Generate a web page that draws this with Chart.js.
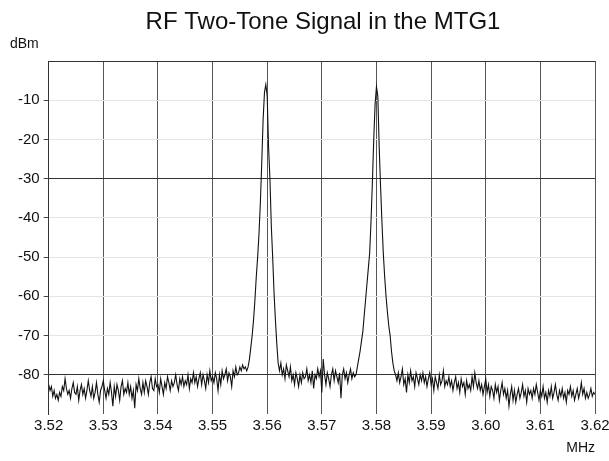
<!DOCTYPE html>
<html>
<head>
<meta charset="utf-8">
<script src="https://cdn.jsdelivr.net/npm/chart.js@4.4.1/dist/chart.umd.min.js"></script>
<style>
  html, body { margin: 0; padding: 0; background: #fff; }
  #wrap { width: 609px; height: 461px; position: relative; }
</style>
</head>
<body>
<div id="wrap"><canvas id="spectrum"></canvas></div>
<script>
// frequency bins: 3.52 MHz + i * 0.25 kHz
const startMHz = 3.52;
const stepMHz = 0.00025;

const xTickValues = [3.52, 3.53, 3.54, 3.55, 3.56, 3.57, 3.58, 3.59, 3.60, 3.61, 3.62];
const yTickValues = [0, -10, -20, -30, -40, -50, -60, -70, -80, -90];

// noise floor left of the first tone (3.52 .. 3.556)
const noiseLeft = [
  -82.5, -84, -83, -85.5, -84, -86, -85, -86.5, -84.5, -85.5, -83, -84, -81, -83.5, -85, -84, -86, -83.5, -82, -84.5,
  -85, -83, -86.5, -84, -82.5, -85, -83.5, -86, -84, -81.5, -84, -85.5, -83, -86, -84.5, -82, -85, -87, -84, -83,
  -81.5, -84, -86, -83.5, -85, -82, -84.5, -88, -83, -85.5, -82.5, -84, -86.5, -83, -81.5, -85, -83.5, -84.5, -82, -85,
  -83, -86, -84, -88.5, -82.5, -84, -81, -83.5, -85, -82, -84.5, -81.5, -83, -85, -82, -80.5, -83.5, -84, -81, -83,
  -82.5, -84.5, -81, -83, -85, -82, -83.5, -80.5, -82, -84, -81.5, -83, -82, -80, -82.5, -84, -81, -82.5, -80.5, -83,
  -81.5, -82.5, -80, -83.5, -81, -82, -79.5, -82, -80.5, -83, -81, -79.5, -82.5, -80, -81.5, -83.5, -80, -82, -79, -81.5,
  -80.5, -82, -79.5, -81, -84, -80, -82.5, -79, -81, -80, -78.5, -81.5, -79.5, -80.5, -83, -79, -80.5, -78, -80, -79.5,
  -78, -79, -77.5, -78.5, -78
];

// first tone, 3.55625 .. 3.562
const toneOne = [
  -79, -78, -76, -73, -70, -66, -61, -55, -50, -44, -36, -26, -15, -8, -6,
  -9, -22, -30, -42, -50, -59, -66, -72, -77
];

// noise between the tones, 3.56225 .. 3.576
const noiseMid = [
  -79, -77, -80, -78.5, -81, -77.5, -79, -80.5, -78, -81.5, -80, -82.5, -79.5, -81, -83, -80, -82, -79.5, -81, -80.5,
  -78.5, -81.5, -80, -82, -79, -83.5, -80, -81, -78.5, -80.5, -79, -84.5, -76, -80, -82.5, -79.5, -81, -83, -80, -78.5,
  -81.5, -79, -80.5, -82, -79.5, -86, -80, -78.5, -81, -79.5, -82, -80, -78.5, -81, -79.5, -80.5
];

// second tone, 3.57625 .. 3.58325
const toneTwo = [
  -80, -78, -76, -74, -71.5, -69, -65, -61, -57, -53, -49, -41, -31, -20, -11,
  -6.5, -9, -22, -32, -41, -49, -55, -60, -64, -67.5, -70, -74, -77, -79
];

// noise floor right of the second tone, 3.5835 .. 3.62
const noiseRight = [
  -80, -81.5, -79.5, -82, -80.5, -78.5, -82.5, -81, -84.5, -80, -82, -79, -81.5, -80.5, -83, -79.5, -81, -82.5, -80, -81.5,
  -79.5, -82, -80.5, -83, -81, -79.5, -82.5, -81, -84, -80.5, -82, -83.5, -80, -82.5, -81.5, -79, -83, -81.5, -82.5, -80.5,
  -83, -81.5, -84, -82, -80.5, -83.5, -82, -84.5, -81, -83, -82, -85, -81.5, -83.5, -82.5, -84, -80.5, -83, -79.5, -82,
  -83.5, -81.5, -84, -82.5, -85, -83, -81, -84.5, -82.5, -85.5, -83, -84, -86, -82.5, -84.5, -83, -86.5, -84, -82, -85,
  -83.5, -86, -84, -88, -85, -83, -86.5, -84, -87, -85, -83.5, -86, -84.5, -82.5, -85.5, -84, -87, -83.5, -85, -84,
  -86, -83.5, -85, -82.5, -84.5, -86.5, -84, -85.5, -83, -86, -84.5, -87, -84, -85.5, -83, -86, -84.5, -82.5, -85, -86.5,
  -84, -85.5, -83.5, -86, -84.5, -87, -84, -85, -83, -85.5, -84, -86.5, -85, -83.5, -86, -84.5, -82, -85, -83.5, -86,
  -84.5, -86, -85, -83.5, -85.5, -84.5, -85
];

const levels = [...noiseLeft, ...toneOne, ...noiseMid, ...toneTwo, ...noiseRight];
const points = levels.map((v, i) => ({ x: startMHz + i * stepMHz, y: v }));

const FONT = '"Liberation Sans", Arial, Helvetica, sans-serif';

// title and unit labels
const labelsPlugin = {
  id: 'labels',
  afterDraw(chart) {
    const c = chart.ctx;
    c.save();
    c.fillStyle = '#111';
    c.textBaseline = 'middle';
    c.font = '24px ' + FONT;
    c.textAlign = 'center';
    c.fillText('RF Two-Tone Signal in the MTG1', 323, 22);
    c.font = '14px ' + FONT;
    c.textAlign = 'left';
    c.fillText('dBm', 10, 44);
    c.textAlign = 'right';
    c.fillText('MHz', 595, 448);
    c.restore();
  }
};

const ctx = document.getElementById('spectrum').getContext('2d');
new Chart(ctx, {
  type: 'line',
  data: {
    datasets: [{
      label: 'RF Two-Tone',
      data: points,
      borderColor: '#111',
      borderWidth: 1.1,
      pointRadius: 0,
      tension: 0,
      fill: false,
    }],
  },
  options: {
    responsive: true,
    maintainAspectRatio: false,
    animation: false,
    layout: { padding: { top: 61, left: 14, right: 14, bottom: 23 } },
    plugins: {
      legend: { display: false },
      title: { display: false },
      tooltip: { enabled: false },
    },
    scales: {
      x: {
        type: 'linear',
        min: 3.52,
        max: 3.62,
        afterBuildTicks: (axis) => { axis.ticks = xTickValues.map(v => ({ value: v })); },
        // let the last label hang into the right margin
        afterFit: (axis) => { axis.paddingRight = 0; axis.paddingLeft = 0; },
        ticks: {
          callback: (v) => v.toFixed(2),
          color: '#111',
          font: { family: FONT, size: 15 },
          padding: 3,
          maxRotation: 0,
          autoSkip: false,
        },
        grid: { color: '#555', lineWidth: 1, drawTicks: false },
        border: { display: false },
      },
      y: {
        min: -90,
        max: 0,
        afterBuildTicks: (axis) => { axis.ticks = yTickValues.map(v => ({ value: v })); },
        ticks: {
          callback: (v) => (v === 0 || v === -90) ? '' : v,
          color: '#111',
          font: { family: FONT, size: 15 },
          padding: 4,
        },
        grid: {
          color: (c) => {
            const v = c.tick.value;
            if (v === 0 || v === -30 || v === -80) return '#333';
            if (v === -90) return 'rgba(0,0,0,0)';
            return '#e4e4e4';
          },
          tickColor: (c) => (c.tick.value === -90 || c.tick.value === 0) ? 'rgba(0,0,0,0)' : '#444',
          tickLength: 5,
          lineWidth: 1,
        },
        border: { display: true, color: '#333' },
      },
    },
  },
  plugins: [labelsPlugin],
});
</script>
</body>
</html>
